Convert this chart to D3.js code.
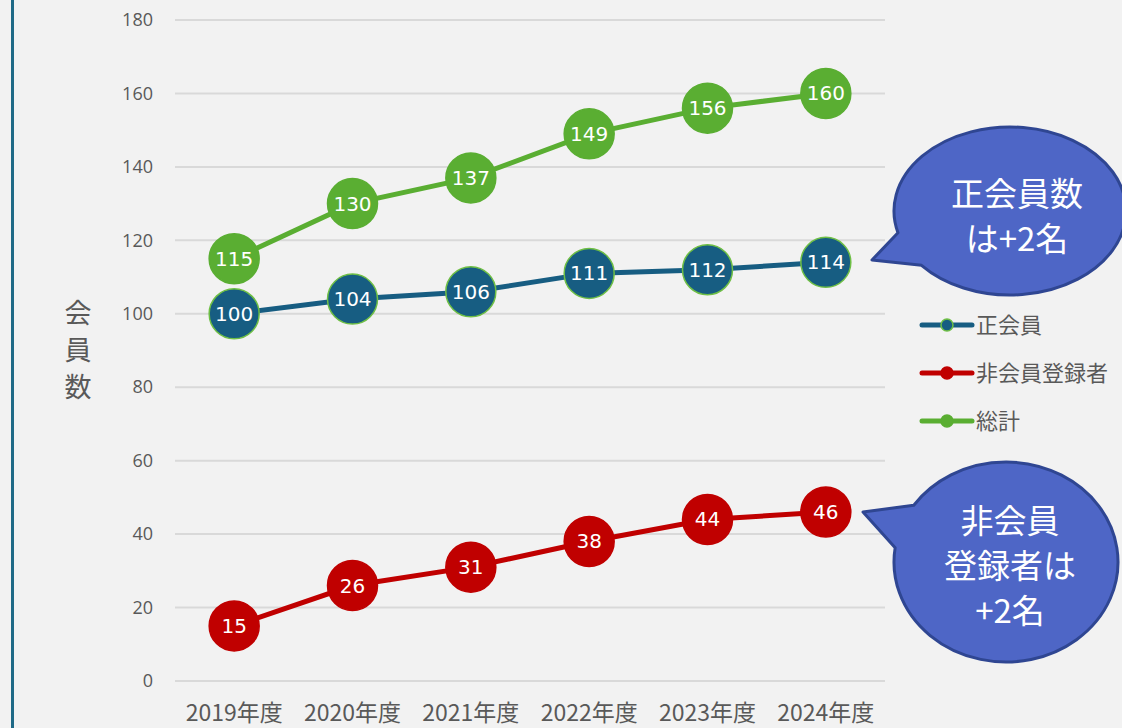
<!DOCTYPE html>
<html>
<head>
<meta charset="utf-8">
<script src="https://cdn.jsdelivr.net/npm/d3@7"></script>
<style>
  body { margin: 0; background: #f2f2f2; }
  svg { display: block; }
</style>
</head>
<body>
<div id="chart"></div>
<script>
// data
const years = ["2019年度", "2020年度", "2021年度", "2022年度", "2023年度", "2024年度"];
const seiKaiin = [100, 104, 106, 111, 112, 114];
const hiKaiin = [15, 26, 31, 38, 44, 46];
const soukei = [115, 130, 137, 149, 156, 160];
const yTicks = [0, 20, 40, 60, 80, 100, 120, 140, 160, 180];

const series = [
  { name: "正会員", values: seiKaiin, color: "#175d82", stroke: "#6fbf45" },
  { name: "非会員登録者", values: hiKaiin, color: "#c00000", stroke: "#c00000" },
  { name: "総計", values: soukei, color: "#5aae32", stroke: "#5aae32" }
];

const width = 1122;
const height = 728;
const font = "'Noto Sans CJK JP', 'Noto Sans', sans-serif";

const svg = d3.select("#chart").append("svg")
  .attr("width", width)
  .attr("height", height);

svg.append("rect").attr("width", width).attr("height", height).attr("fill", "#f2f2f2");
// left frame line
svg.append("rect").attr("x", 11).attr("y", 0).attr("width", 3).attr("height", height).attr("fill", "#1f6a87");

const x = d3.scaleBand().domain(years).range([175, 885]);
const y = d3.scaleLinear().domain([0, 180]).range([681, 20]);

// grid
svg.append("g").selectAll("line")
  .data(yTicks)
  .enter().append("line")
  .attr("x1", 175).attr("x2", 885)
  .attr("y1", d => y(d)).attr("y2", d => y(d))
  .attr("stroke", "#d9d9d9").attr("stroke-width", 2);

// y axis
const yAxis = d3.axisLeft(y).tickValues(yTicks).tickSize(0).tickPadding(0);
const gy = svg.append("g").attr("transform", "translate(153,0)").call(yAxis);
gy.select(".domain").remove();
gy.selectAll("text")
  .attr("fill", "#595959")
  .style("font-family", "'Open Sans', 'Noto Sans', sans-serif")
  .style("font-size", "18px");

// x axis
const xAxis = d3.axisBottom(x).tickSize(0).tickPadding(0);
const gx = svg.append("g").attr("transform", "translate(0,705)").call(xAxis);
gx.select(".domain").remove();
gx.selectAll("text")
  .attr("fill", "#595959")
  .style("font-family", font)
  .style("font-size", "23px");

// y label, one character per line
["会", "員", "数"].forEach((c, i) => {
  svg.append("text")
    .attr("x", 78).attr("y", 323 + i * 37)
    .attr("text-anchor", "middle")
    .attr("fill", "#595959")
    .style("font-family", font)
    .style("font-size", "27px")
    .text(c);
});

const cx = (d, i) => x(years[i]) + x.bandwidth() / 2;
const line = d3.line().x(cx).y(d => y(d));

series.forEach(s => {
  const g = svg.append("g");
  g.append("path")
    .datum(s.values)
    .attr("d", line)
    .attr("fill", "none")
    .attr("stroke", s.color)
    .attr("stroke-width", 5);
  g.selectAll("circle")
    .data(s.values)
    .enter().append("circle")
    .attr("cx", cx)
    .attr("cy", d => y(d))
    .attr("r", 25)
    .attr("fill", s.color)
    .attr("stroke", s.stroke)
    .attr("stroke-width", 1.5);
  g.selectAll("text")
    .data(s.values)
    .enter().append("text")
    .attr("x", cx)
    .attr("y", d => y(d) + 7)
    .attr("text-anchor", "middle")
    .attr("fill", "#ffffff")
    .style("font-family", "'DejaVu Sans', sans-serif")
    .style("font-size", "20px")
    .text(d => d);
});

// legend
const legend = svg.append("g");
series.forEach((s, i) => {
  const ly = 325 + i * 48;
  legend.append("line")
    .attr("x1", 922).attr("x2", 972).attr("y1", ly).attr("y2", ly)
    .attr("stroke", s.color).attr("stroke-width", 5).attr("stroke-linecap", "round");
  legend.append("circle")
    .attr("cx", 947).attr("cy", ly).attr("r", 6)
    .attr("fill", s.color).attr("stroke", s.stroke).attr("stroke-width", 1.5);
  legend.append("text")
    .attr("x", 976).attr("y", ly + 8)
    .attr("fill", "#595959")
    .style("font-family", font)
    .style("font-size", "22px")
    .text(s.name);
});

// callouts (ellipse with a pointed tail)
function callout(cxp, cyp, rx, ry, tip, base1, base2, lines, tx, ty) {
  const g = svg.append("g");
  const a1 = Math.atan2((base1[1] - cyp) / ry, (base1[0] - cxp) / rx);
  const a2 = Math.atan2((base2[1] - cyp) / ry, (base2[0] - cxp) / rx);
  const p1 = [cxp + rx * Math.cos(a1), cyp + ry * Math.sin(a1)];
  const p2 = [cxp + rx * Math.cos(a2), cyp + ry * Math.sin(a2)];
  // go the long way round from p2 back to p1
  let d = (a1 - a2) % (2 * Math.PI);
  if (d < 0) d += 2 * Math.PI;
  const sweep = d > Math.PI ? 1 : 0;
  const path = `M${p1[0]},${p1[1]} L${tip[0]},${tip[1]} L${p2[0]},${p2[1]} A${rx},${ry} 0 1 ${sweep} ${p1[0]},${p1[1]} Z`;
  g.append("path")
    .attr("d", path)
    .attr("fill", "#4e66c6")
    .attr("stroke", "#2f4692")
    .attr("stroke-width", 3)
    .attr("stroke-linejoin", "round");
  lines.forEach((t, i) => {
    g.append("text")
      .attr("x", tx).attr("y", ty + i * 45)
      .attr("text-anchor", "middle")
      .attr("fill", "#ffffff")
      .style("font-family", font)
      .style("font-size", "33px")
      .text(t);
  });
}

callout(1010, 211, 116, 84, [872, 260], [897, 233], [922, 265], ["正会員数", "は+2名"], 1017, 206);
callout(1006, 562, 112, 100, [863, 512], [915, 506], [898, 548], ["非会員", "登録者は", "+2名"], 1010, 533);
</script>
</body>
</html>
